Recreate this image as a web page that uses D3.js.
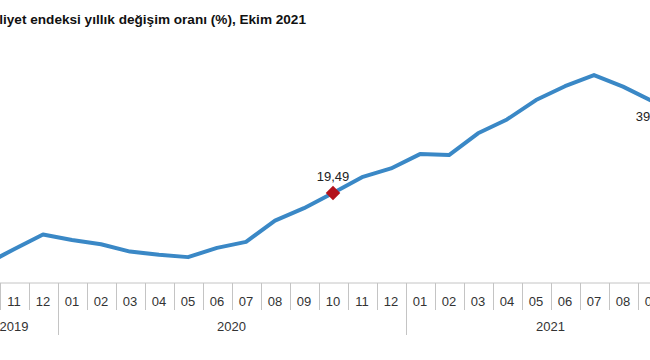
<!DOCTYPE html>
<html>
<head>
<meta charset="utf-8">
<script src="https://cdn.jsdelivr.net/npm/d3@7"></script>
<style>
  html, body { margin: 0; padding: 0; background: #fff; overflow: hidden; }
  svg { display: block; font-family: "Liberation Sans", Arial, sans-serif; }
</style>
</head>
<body>
<svg id="chart" width="650" height="360"></svg>
<script>
// ---- data ----
const title = "İnşaat maliyet endeksi yıllık değişim oranı (%), Ekim 2021";
const months = ["10","11","12","01","02","03","04","05","06","07","08","09","10","11","12",
                "01","02","03","04","05","06","07","08","09","10"];
const years  = ["2019","2019","2019",
                "2020","2020","2020","2020","2020","2020","2020","2020","2020","2020","2020","2020",
                "2021","2021","2021","2021","2021","2021","2021","2021","2021","2021"];
const values = [4.0, 7.3, 10.5, 9.3, 8.4, 6.8, 6.1, 5.6, 7.6, 8.9, 13.5, 16.2, 19.49, 22.9, 24.8,
                27.9, 27.7, 32.4, 35.4, 39.6, 42.6, 45.0, 42.5, 39.4, null];
const markedIdx = [12];
const labelIdx = [12, 23];
const labelPos = ["above", "below"];

// ---- chart ----
const svg = d3.select("#chart");
const idx = d3.range(months.length);

const x = d3.scaleBand().domain(idx).range([-29.5, 695.5]).padding(0);
const y = d3.scaleLinear().domain([0, 50]).range([283, 52]);
const cx = i => x(i) + x.bandwidth() / 2;
const fmt = v => d3.format(".2f")(v).replace(".", ",");

// title
svg.append("text")
  .attr("x", 306).attr("y", 23.5)
  .attr("text-anchor", "end")
  .attr("font-size", 13.6).attr("font-weight", "bold").attr("fill", "#111")
  .text(title);

// axis baseline
const axisY = y(0);
svg.append("line")
  .attr("x1", 0).attr("x2", 650).attr("y1", axisY).attr("y2", axisY)
  .attr("stroke", "#c4c4c4").attr("stroke-width", 1);

// month dividers
const g = svg.append("g");
idx.forEach(i => {
  const bx = Math.round(x(i)) + 0.5;
  const yearStart = i > 0 && years[i] !== years[i - 1];
  g.append("line")
    .attr("x1", bx).attr("x2", bx)
    .attr("y1", axisY).attr("y2", yearStart ? 335 : 310)
    .attr("stroke", "#c4c4c4").attr("stroke-width", 1);
});

// month labels
svg.append("g").selectAll("text").data(idx).join("text")
  .attr("x", i => cx(i)).attr("y", 305.5)
  .attr("text-anchor", "middle")
  .attr("font-size", 13).attr("fill", "#333")
  .text(i => months[i]);

// year labels
const yearGroups = d3.groups(idx, i => years[i]);
svg.append("g").selectAll("text").data(yearGroups).join("text")
  .attr("x", d => (x(d[1][0]) + x(d[1][d[1].length - 1]) + x.bandwidth()) / 2)
  .attr("y", 330.5)
  .attr("text-anchor", "middle")
  .attr("font-size", 13).attr("fill", "#333")
  .text(d => d[0]);

// line
const line = d3.line()
  .defined(i => values[i] != null)
  .x(i => cx(i)).y(i => y(values[i]));
svg.append("path")
  .datum(idx)
  .attr("d", line)
  .attr("fill", "none")
  .attr("stroke", "#3a88c6")
  .attr("stroke-width", 4)
  .attr("stroke-linejoin", "round");

// markers
svg.append("g").selectAll("path").data(markedIdx).join("path")
  .attr("d", d3.symbol().type(d3.symbolDiamond2).size(135))
  .attr("transform", i => `translate(${cx(i)},${y(values[i])})`)
  .attr("fill", "#b3121c");

// value labels
svg.append("g").selectAll("text").data(labelIdx).join("text")
  .attr("x", i => cx(i))
  .attr("y", (i, k) => labelPos[k] === "above" ? y(values[i]) - 12 : y(values[i]) + 20)
  .attr("text-anchor", "middle")
  .attr("font-size", 13).attr("fill", "#222")
  .text(i => fmt(values[i]));
</script>
</body>
</html>
